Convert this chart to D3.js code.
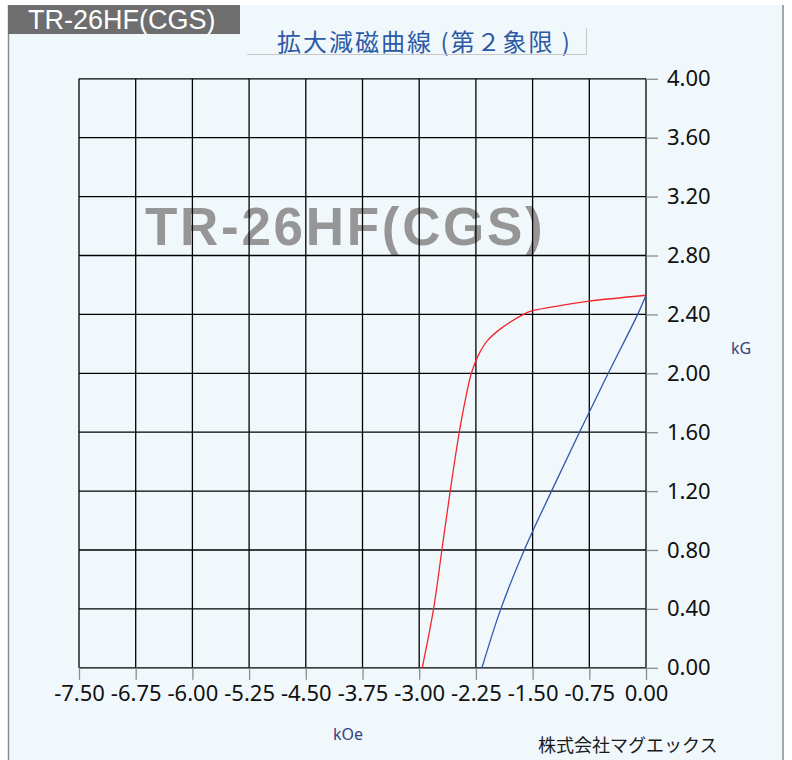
<!DOCTYPE html>
<html>
<head>
<meta charset="utf-8">
<script src="https://cdn.jsdelivr.net/npm/d3@7.9.0/dist/d3.min.js"></script>
<style>
  body { margin: 0; background: #fff; }
  svg { display: block; }
</style>
</head>
<body>
<svg id="chart" width="792" height="760"></svg>
<script>
// tick values / labels
const xTicks = [-7.5, -6.75, -6, -5.25, -4.5, -3.75, -3, -2.25, -1.5, -0.75, 0];
const xTickLabels = ["-7.50", "-6.75", "-6.00", "-5.25", "-4.50", "-3.75", "-3.00", "-2.25", "-1.50", "-0.75", "0.00"];
const yTicks = [0, 0.4, 0.8, 1.2, 1.6, 2.0, 2.4, 2.8, 3.2, 3.6, 4.0];
const yTickLabels = ["0.00", "0.40", "0.80", "1.20", "1.60", "2.00", "2.40", "2.80", "3.20", "3.60", "4.00"];

// B curve (red), H in kOe, B in kG
const redH = [-2.96, -2.81, -2.70, -2.59, -2.47, -2.39, -2.31, -2.22, -2.10, -1.93, -1.62, -1.50, -1.14, -0.75, 0];
const redB = [0.00, 0.40, 0.80, 1.20, 1.60, 1.82, 2.00, 2.12, 2.22, 2.30, 2.40, 2.425, 2.46, 2.49, 2.53];

// blue curve
const blueH = [-2.17, -1.92, -1.61, -1.25, -0.88, -0.50, -0.11, 0];
const blueB = [0.00, 0.40, 0.80, 1.20, 1.60, 2.00, 2.40, 2.53];

const svg = d3.select("#chart");
const font = "'Noto Sans', 'Open Sans', sans-serif";

// panel
svg.append("rect")
  .attr("x", 8).attr("y", 5).attr("width", 775).attr("height", 760)
  .attr("fill", "#f0f8fb");
svg.append("line").attr("x1", 8.5).attr("x2", 8.5).attr("y1", 5).attr("y2", 760)
  .attr("stroke", "#8a8a8a").attr("stroke-width", 1.5);
svg.append("line").attr("x1", 783).attr("x2", 783).attr("y1", 5).attr("y2", 760)
  .attr("stroke", "#8a8a8a").attr("stroke-width", 1.5);

// tab
svg.append("rect")
  .attr("x", 8).attr("y", 5).attr("width", 232).attr("height", 29)
  .attr("fill", "#6e6e6e");
svg.append("text")
  .attr("x", 28).attr("y", 29)
  .attr("fill", "#fff")
  .style("font-family", "'Liberation Sans', Arial, sans-serif")
  .style("font-size", "27px")
  .text("TR-26HF(CGS)");

// title
svg.append("text")
  .attr("x", 277).attr("y", 51)
  .attr("fill", "#2d5aa5")
  .style("font-family", "'Noto Sans CJK JP', sans-serif")
  .style("font-size", "24px")
  .style("letter-spacing", "2px")
  .text("拡大減磁曲線 (第２象限 )");
svg.append("path")
  .attr("d", "M247,54.5H586.5V28")
  .attr("fill", "none")
  .attr("stroke", "#c8c8c8")
  .attr("stroke-width", 1);

const x = d3.scaleLinear().domain([-7.5, 0]).range([79, 646]);
const y = d3.scaleLinear().domain([0, 4]).range([667.8, 78.8]);

// watermark
svg.append("text")
  .attr("x", 145).attr("y", 245)
  .attr("fill", "#969696")
  .style("font-family", "'Liberation Sans', Arial, sans-serif")
  .style("font-weight", "bold")
  .style("font-size", "53px")
  .style("letter-spacing", "2.7px")
  .text("TR-26HF(CGS)");

// grid
const grid = svg.append("g").attr("stroke", "#000").attr("stroke-width", 1.3);
grid.selectAll(".gx").data(xTicks).join("line")
  .attr("x1", d => x(d)).attr("x2", d => x(d))
  .attr("y1", y(4)).attr("y2", y(0));
grid.selectAll(".gy").data(yTicks).join("line")
  .attr("x1", x(-7.5)).attr("x2", x(0))
  .attr("y1", d => y(d)).attr("y2", d => y(d));

// axes
const xAxis = svg.append("g")
  .attr("transform", `translate(0,${y(0)})`)
  .call(d3.axisBottom(x).tickValues(xTicks)
    .tickFormat((d, i) => xTickLabels[i]).tickSize(12).tickPadding(6));
const yAxis = svg.append("g")
  .attr("transform", `translate(${x(0)},0)`)
  .call(d3.axisRight(y).tickValues(yTicks)
    .tickFormat((d, i) => yTickLabels[i]).tickSize(12).tickPadding(9));

[xAxis, yAxis].forEach(g => {
  g.select(".domain").remove();
  g.selectAll(".tick line").attr("stroke", "#8c8c8c").attr("stroke-width", 1.3);
  g.selectAll(".tick text")
    .attr("fill", "#111")
    .style("font-family", font)
    .style("font-size", "22px");
});

// curves
const line = d3.line().x(d => x(d[0])).y(d => y(d[1])).curve(d3.curveCatmullRom.alpha(0.5));
svg.append("path")
  .datum(redH.map((h, i) => [h, redB[i]]))
  .attr("d", line)
  .attr("fill", "none")
  .attr("stroke", "#f5262b")
  .attr("stroke-width", 1.3);
svg.append("path")
  .datum(blueH.map((h, i) => [h, blueB[i]]))
  .attr("d", line)
  .attr("fill", "none")
  .attr("stroke", "#2f58b0")
  .attr("stroke-width", 1.3);

// unit labels
svg.append("text")
  .attr("x", 731).attr("y", 354)
  .attr("fill", "#3a4080")
  .style("font-family", font)
  .style("font-size", "16px")
  .text("kG");
svg.append("text")
  .attr("x", 333).attr("y", 740)
  .attr("fill", "#3a4080")
  .style("font-family", font)
  .style("font-size", "16px")
  .text("kOe");

svg.append("text")
  .attr("x", 538).attr("y", 752)
  .attr("fill", "#1a1a1a")
  .style("font-family", "'Noto Sans CJK JP', sans-serif")
  .style("font-size", "18px")
  .text("株式会社マグエックス");
</script>
</body>
</html>
